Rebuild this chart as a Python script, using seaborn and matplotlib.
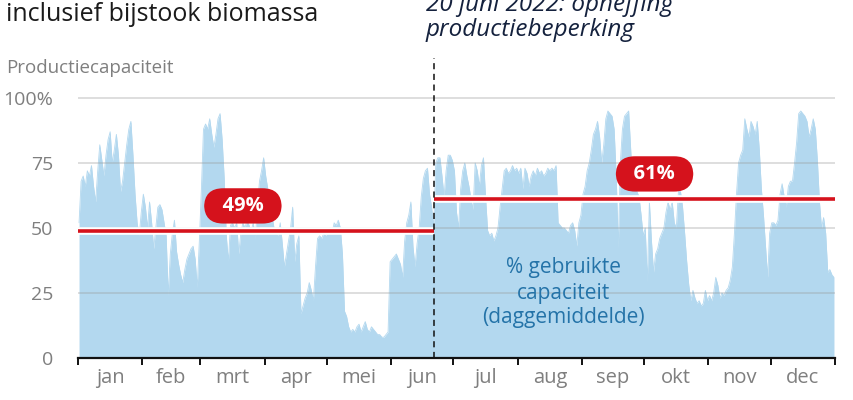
import numpy as np
import pandas as pd
import matplotlib
matplotlib.use("Agg")
import matplotlib.pyplot as plt
import matplotlib.patheffects as pe
import seaborn as sns

# ---- data (daily average % of used capacity) ----
jan = [52, 68, 70, 66, 72, 70, 74, 66, 60, 72, 82, 76, 70, 78, 84, 87, 75, 80, 86, 78,
       64, 68, 75, 82, 88, 91, 78, 63, 52, 47, 56]
feb = [63, 58, 50, 60, 52, 42, 50, 58, 59, 57, 52, 47, 24, 40, 48, 53, 41, 36, 32, 29,
       34, 38, 40, 42, 43, 38, 27, 45]
mrt = [65, 88, 90, 88, 92, 86, 81, 86, 92, 94, 84, 69, 47, 37, 51, 52, 50, 52, 40, 48,
       52, 50, 53, 51, 49, 52, 46, 58, 68, 72, 77]
apr = [70, 65, 58, 55, 50, 48, 47, 52, 44, 35, 40, 45, 50, 58, 37, 44, 47, 17, 20, 23,
       25, 29, 26, 22, 35, 46, 47, 46, 48, 47]
mei = [49, 50, 48, 52, 51, 53, 50, 40, 18, 16, 12, 10, 11, 10, 12, 13, 10, 12, 14, 11,
       10, 12, 11, 10, 9, 9, 8, 8, 9, 10, 37]
jun = [38, 39, 40, 38, 36, 31, 45, 52, 55, 60, 43, 35, 44, 50, 62, 69, 72, 73, 63, 58,
       50, 75, 77, 77, 70, 62, 72, 78, 78, 76]
jul = [72, 56, 50, 65, 72, 75, 70, 66, 61, 57, 75, 72, 66, 74, 77, 62, 49, 47, 48, 45,
       47, 50, 58, 65, 72, 73, 71, 72, 74, 72, 73]
aug = [71, 73, 65, 73, 71, 66, 70, 72, 70, 73, 71, 72, 70, 71, 73, 72, 73, 72, 74, 52,
       51, 50, 50, 49, 48, 51, 52, 49, 43, 52, 55]
sep = [63, 66, 72, 75, 80, 86, 88, 91, 85, 75, 82, 92, 95, 94, 93, 88, 70, 42, 75, 88,
       93, 94, 95, 80, 65, 66, 64, 62, 55, 47]
okt = [50, 29, 60, 45, 33, 40, 42, 46, 48, 50, 56, 60, 57, 60, 52, 50, 64, 64, 58, 48,
       37, 28, 22, 26, 23, 21, 22, 20, 21, 26, 22]
nov = [24, 22, 25, 31, 28, 23, 25, 24, 26, 27, 30, 35, 48, 63, 75, 78, 80, 92, 88, 85,
       91, 89, 86, 91, 80, 65, 55, 43, 31, 48]
dec = [52, 52, 51, 53, 63, 67, 62, 58, 66, 68, 68, 75, 83, 94, 95, 94, 93, 91, 85, 88,
       92, 88, 76, 60, 50, 54, 48, 33, 34, 32, 31]

months = ["jan", "feb", "mrt", "apr", "mei", "jun", "jul", "aug", "sep", "okt", "nov", "dec"]
month_days = [31, 28, 31, 30, 31, 30, 31, 31, 30, 31, 30, 31]
avg_labels = ["49%", "61%"]
avg_values = [49, 61]
split_day = 171.5  # 20 juni 2022
yticks = [0, 25, 50, 75, 100]
ytick_labels = ["0", "25", "50", "75", "100%"]

capacity = jan + feb + mrt + apr + mei + jun + jul + aug + sep + okt + nov + dec
df = pd.DataFrame({"dag": np.arange(len(capacity)) + 0.5, "capaciteit": capacity})

# ---- style ----
sns.set_theme(style="white")
plt.rcParams["font.family"] = ["Open Sans", "Noto Sans", "DejaVu Sans"]

FILL = "#b3d8ef"
RED = "#d5121c"
GREY = "#7f7f7f"
BLUE_TXT = "#2473a8"

fig = plt.figure(figsize=(8.54, 4.0), dpi=100)
ax = fig.add_axes([78 / 854, 42 / 400, (835 - 78) / 854, (358 - 58) / 400])
ymax = (358 - 58) / 2.6
ax.set_xlim(0, 365)
ax.set_ylim(0, ymax)

ax.fill_between(df["dag"], df["capaciteit"], 0, color=FILL, lw=0, zorder=1)
sns.lineplot(data=df, x="dag", y="capaciteit", ax=ax, color=FILL, lw=0.6, zorder=1)

# grid lines
for y in yticks[1:]:
    ax.axhline(y, color="#999999", alpha=0.38, lw=1.2, zorder=2)

# average lines
halo = [pe.Stroke(linewidth=5.5, foreground="white"), pe.Normal()]
ax.plot([0, split_day], [avg_values[0]] * 2, color=RED, lw=2.6, zorder=4,
        path_effects=halo, solid_capstyle="butt")
ax.plot([split_day, 365], [avg_values[1]] * 2, color=RED, lw=2.6, zorder=4,
        path_effects=halo, solid_capstyle="butt")

# badges
badge = dict(boxstyle="round,pad=0.38,rounding_size=0.95", fc=RED, ec="none")
ax.text(79.5, 58.5, "  " + avg_labels[0] + "  ", ha="center", va="center", color="white",
        fontsize=14.5, fontweight="bold", bbox=badge, zorder=6)
ax.text(278, 70.8, "  " + avg_labels[1] + "  ", ha="center", va="center", color="white",
        fontsize=14.5, fontweight="bold", bbox=badge, zorder=6)

# dashed vertical line
ax.axvline(split_day, color="#111111", lw=1.1, ls=(0, (4, 3)), zorder=5)

# series label
ax.text(234, 25.0, "% gebruikte\ncapaciteit\n(daggemiddelde)", ha="center", va="center",
        color=BLUE_TXT, fontsize=15, linespacing=1.25, zorder=3)

# axes
for s in ["top", "right", "left"]:
    ax.spines[s].set_visible(False)
ax.spines["bottom"].set_color("#111111")
ax.spines["bottom"].set_linewidth(1.6)
ax.spines["bottom"].set_zorder(6)

bounds = np.concatenate([[0], np.cumsum(month_days)])
mids = (bounds[:-1] + bounds[1:]) / 2
ax.set_xticks(bounds)
ax.set_xticklabels([])
ax.set_xticks(mids, minor=True)
ax.set_xticklabels(months, minor=True)
ax.tick_params(axis="x", which="major", direction="out", length=5, width=1.4,
               color="#111111", bottom=True)
ax.tick_params(axis="x", which="minor", length=0, pad=7, labelsize=14.5, labelcolor=GREY)
ax.set_yticks(yticks)
ax.set_yticklabels(ytick_labels)
ax.tick_params(axis="y", length=0, pad=18, labelsize=14, labelcolor=GREY)
ax.set_xlabel("")
ax.set_ylabel("")
ax.grid(False)

# texts
fig.text(6 / 854, 1 - 21 / 400, "inclusief bijstook biomassa", fontsize=18,
         color="#1a1a1a", va="baseline", ha="left")
fig.text(6 / 854, 1 - 73 / 400, "Productiecapaciteit", fontsize=13.5,
         color=GREY, va="baseline", ha="left")
fig.text(426 / 854, 1 - 11 / 400, "20 juni 2022: opheffing", fontsize=17.5,
         style="italic", color="#14213d", va="baseline", ha="left")
fig.text(426 / 854, 1 - 36 / 400, "productiebeperking", fontsize=17.5,
         style="italic", color="#14213d", va="baseline", ha="left")

fig.savefig("out.png", dpi=100)
